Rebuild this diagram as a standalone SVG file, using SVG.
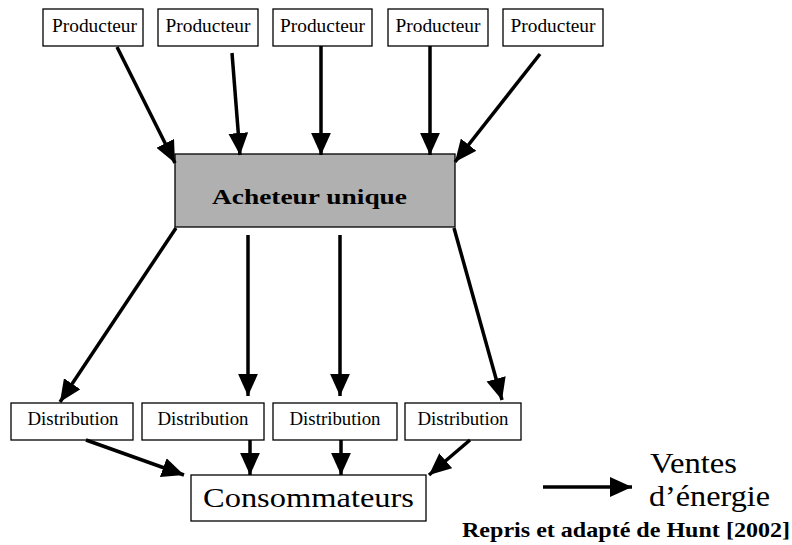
<svg xmlns="http://www.w3.org/2000/svg" width="792" height="545" viewBox="0 0 792 545">
<style>
.box{fill:#fff;stroke:#000;stroke-width:1.3}
.t{font-family:"Liberation Serif",serif;fill:#000;text-anchor:middle}
.s{font-size:18px}
.c line{stroke:#000;stroke-width:3.5;marker-end:url(#ah)}
</style>
<defs>
<marker id="ah" markerUnits="userSpaceOnUse" markerWidth="22" markerHeight="20" refX="20" refY="9" orient="auto" viewBox="0 0 20 18">
<path d="M0,0 L20,9 L0,18 z" fill="#000"/>
</marker>
</defs>
<rect width="792" height="545" fill="#fff"/>
<g id="p1"><rect class="box" x="43" y="9" width="100" height="37"/><text class="t s" x="94.5" y="32" textLength="85" lengthAdjust="spacingAndGlyphs">Producteur</text></g>
<g id="p2"><rect class="box" x="158" y="9" width="100" height="37"/><text class="t s" x="208" y="32" textLength="85" lengthAdjust="spacingAndGlyphs">Producteur</text></g>
<g id="p3"><rect class="box" x="273" y="9" width="99" height="37"/><text class="t s" x="322.5" y="32" textLength="85" lengthAdjust="spacingAndGlyphs">Producteur</text></g>
<g id="p4"><rect class="box" x="388" y="9" width="100" height="37"/><text class="t s" x="438" y="32" textLength="85" lengthAdjust="spacingAndGlyphs">Producteur</text></g>
<g id="p5"><rect class="box" x="503" y="9" width="100" height="37"/><text class="t s" x="553" y="32" textLength="85" lengthAdjust="spacingAndGlyphs">Producteur</text></g>
<g id="acheteur"><rect x="175" y="154" width="280" height="73" fill="#b0b0b0" stroke="#000" stroke-width="1.3"/><text class="t" x="309.5" y="204" font-size="22" font-weight="bold" textLength="195" lengthAdjust="spacingAndGlyphs">Acheteur unique</text></g>
<g id="d1"><rect class="box" x="11" y="403" width="122" height="37"/><text class="t s" x="73" y="425" textLength="91" lengthAdjust="spacingAndGlyphs">Distribution</text></g>
<g id="d2"><rect class="box" x="142" y="403" width="122" height="37"/><text class="t s" x="203" y="425" textLength="91" lengthAdjust="spacingAndGlyphs">Distribution</text></g>
<g id="d3"><rect class="box" x="273" y="403" width="124" height="37"/><text class="t s" x="335" y="425" textLength="91" lengthAdjust="spacingAndGlyphs">Distribution</text></g>
<g id="d4"><rect class="box" x="405" y="403" width="116" height="37"/><text class="t s" x="463" y="425" textLength="91" lengthAdjust="spacingAndGlyphs">Distribution</text></g>
<g id="conso"><rect class="box" x="191" y="475" width="235" height="46"/><text class="t" x="308.5" y="507" font-size="28" textLength="211" lengthAdjust="spacingAndGlyphs">Consommateurs</text></g>
<g id="connectors" class="c">
<line x1="117" y1="47" x2="175" y2="163"/>
<line x1="232" y1="53" x2="240" y2="155"/>
<line x1="321" y1="46" x2="321" y2="155"/>
<line x1="430" y1="46" x2="430" y2="155"/>
<line x1="540" y1="54" x2="455" y2="162"/>
<line x1="176" y1="228" x2="60" y2="402"/>
<line x1="248" y1="235" x2="248" y2="396"/>
<line x1="340" y1="235" x2="340" y2="396"/>
<line x1="454" y1="228" x2="502" y2="400"/>
<line x1="86" y1="440" x2="184" y2="475"/>
<line x1="250" y1="440" x2="250" y2="475"/>
<line x1="341" y1="440" x2="341" y2="475"/>
<line x1="470" y1="440" x2="429" y2="475"/>
<line x1="543" y1="487" x2="632" y2="487"/>
</g>
<g id="legend">
<text x="650" y="473" font-family="Liberation Serif,serif" font-size="30" textLength="87" lengthAdjust="spacingAndGlyphs">Ventes</text>
<text x="649" y="506" font-family="Liberation Serif,serif" font-size="30" textLength="121" lengthAdjust="spacingAndGlyphs">d’énergie</text>
<text x="462" y="537" font-family="Liberation Serif,serif" font-size="21" font-weight="bold" textLength="328" lengthAdjust="spacingAndGlyphs">Repris et adapté de Hunt [2002]</text>
</g>
</svg>
